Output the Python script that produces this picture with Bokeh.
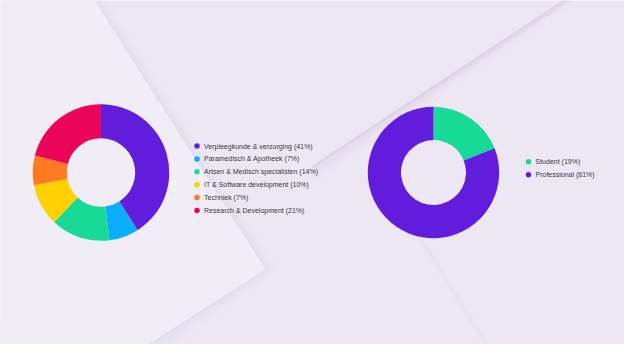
import numpy as np
from bokeh.plotting import figure
from bokeh.models import Range1d
from bokeh.core.properties import value
from bokeh.embed import file_html
from bokeh.resources import INLINE

# ---- data ----
sector_labels = ["Verpleegkunde & verzorging", "Paramedisch & Apotheek",
                 "Artsen & Medisch specialisten", "IT & Software development",
                 "Techniek", "Research & Development"]
sector_values = [41, 7, 14, 10, 7, 21]
sector_colors = ["#621CDC", "#0AAEFB", "#16DA96", "#FFD102", "#FF7A22", "#EC0458"]

status_labels = ["Student", "Professional"]
status_values = [19, 81]
status_colors = ["#16DA96", "#621CDC"]

W, H = 624, 344
BG = "#ECE7F3"
LIGHT = "#F1EDF7"
SHADE = "#8A7FA8"
TEXT = "#3A3846"
FONT = "Liberation Sans"

p = figure(width=W, height=H, output_backend="svg", toolbar_location=None,
           x_range=Range1d(8, 8 + W), y_range=Range1d(8, 8 + H),
           min_border=0, background_fill_color=BG, border_fill_color=BG,
           outline_line_color=None)
p.axis.visible = False
p.grid.visible = False


def Y(ry):
    # reference pixel row -> data y
    return 360 - ry


# ---- background decoration ----
# soft shadow to the right of the light sheet
for k, a in enumerate([0.035, 0.025, 0.015, 0.008]):
    off = 2 + k * 4
    p.patch([97 + off, 273 + off, 143 + off, 0], [Y(0), Y(277), Y(360 + off), Y(360)],
            fill_color=SHADE, fill_alpha=a, line_color=None)
p.patch([0, 97, 273, 143, 0], [Y(v) for v in [0, 0, 277, 360, 360]],
        fill_color=LIGHT, line_color=None)

# diagonal crease top-right
for k, a in enumerate([0.035, 0.02, 0.01]):
    off = 2 + k * 4
    p.patch([582, 590, 320, 320], [Y(0), Y(0), Y(173 + off * 1.5), Y(173)],
            fill_color=SHADE, fill_alpha=a, line_color=None)
    p.patch([582, 582 + off * 1.5, 320 + off * 0.5, 320], [Y(0), Y(0), Y(173 + off * 1.5), Y(173)],
            fill_color=SHADE, fill_alpha=a, line_color=None)
# lower-right crease
for k, a in enumerate([0.04, 0.025, 0.012]):
    p.line([430 - k * 2, 500 - k * 2], [Y(247), Y(360)], line_color=SHADE,
           line_alpha=a, line_width=2.5)


def donut(cx, cy, r_out, r_in, vals, colors):
    v = np.asarray(vals, dtype=float)
    frac = v / v.sum()
    cum = np.concatenate([[0.0], np.cumsum(frac)])
    start = np.pi / 2 - 2 * np.pi * cum[:-1]
    end = np.pi / 2 - 2 * np.pi * cum[1:]
    p.annular_wedge(x=[cx] * len(v), y=[Y(cy)] * len(v),
                    inner_radius=r_in, outer_radius=r_out,
                    inner_radius_units="screen", outer_radius_units="screen",
                    start_angle=start, end_angle=end, direction="clock",
                    fill_color=colors, line_color=None)


def legend(dot_x, text_x, top_y, step, labels, vals, colors):
    n = len(labels)
    ys = [Y(top_y + i * step) for i in range(n)]
    p.scatter(x=[dot_x] * n, y=ys, size=5.5, marker="circle",
              fill_color=colors, line_color=None)
    p.text(x=[text_x] * n, y=ys, text=[f"{l} ({v}%)" for l, v in zip(labels, vals)],
           text_font=value(FONT), text_font_size="7px", text_color=TEXT,
           text_baseline="middle", text_align="left")


donut(108.5, 180, 68.3, 34.2, sector_values, sector_colors)
donut(441, 180, 65.7, 32.5, status_values, status_colors)
legend(204.5, 211.5, 153.5, 12.9, sector_labels, sector_values, sector_colors)
legend(536, 543, 169.3, 12.9, status_labels, status_values, status_colors)

open("out.html", "w").write(file_html(p, INLINE))
